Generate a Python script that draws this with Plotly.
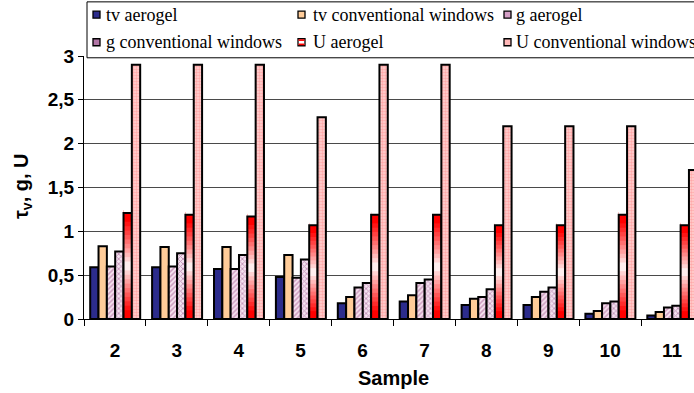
import plotly.graph_objects as go

# ---------------- data ----------------
samples = ["2", "3", "4", "5", "6", "7", "8", "9", "10", "11"]
tv_aerogel = [0.59, 0.59, 0.57, 0.48, 0.18, 0.20, 0.16, 0.16, 0.06, 0.04]
tv_conv = [0.83, 0.82, 0.82, 0.73, 0.25, 0.27, 0.23, 0.25, 0.09, 0.08]
g_aerogel = [0.60, 0.60, 0.57, 0.47, 0.36, 0.41, 0.25, 0.31, 0.18, 0.13]
g_conv = [0.77, 0.75, 0.73, 0.68, 0.41, 0.45, 0.34, 0.36, 0.20, 0.15]
u_aerogel = [1.21, 1.19, 1.17, 1.07, 1.19, 1.19, 1.07, 1.07, 1.19, 1.07]
u_conv = [2.9, 2.9, 2.9, 2.3, 2.9, 2.9, 2.2, 2.2, 2.2, 1.7]
series_names = ["tv aerogel", "tv conventional windows", "g aerogel",
                "g conventional windows", "U aerogel", "U conventional windows"]
y_ticks = [0, 0.5, 1, 1.5, 2, 2.5, 3]

# ---------------- geometry ----------------
W, H = 694, 393
PL, PR = 84, 694          # plot area left / right (px)
PT, PB = 55.5, 319.3      # plot area top / bottom (px)
CAT_W = 61.9              # px per category
x_max = -0.5 + (PR - PL) / CAT_W

BAR_W = 8.33 / CAT_W
START = -0.5 + 6.2 / CAT_W


def offs(i):
    return START + i * BAR_W


def px(x):
    return (x - PL) / (PR - PL)


def py(y):
    return (PB - y) / (PB - PT)


LINE = dict(color="black", width=2)

fig = go.Figure()

fig.add_bar(x=samples, y=tv_aerogel, width=BAR_W, offset=offs(0),
            marker=dict(color="#2c2c8c", line=dict(LINE)), showlegend=False)
fig.add_bar(x=samples, y=tv_conv, width=BAR_W, offset=offs(1),
            marker=dict(color="#ffcc99", line=dict(LINE)), showlegend=False)
fig.add_bar(x=samples, y=g_aerogel, width=BAR_W, offset=offs(2),
            marker=dict(color="#f6e0ee", line=dict(LINE),
                        pattern=dict(shape="/", fgcolor="#9c4a86", bgcolor="#f8e6f2",
                                     size=3.5, solidity=0.45)),
            showlegend=False)
fig.add_bar(x=samples, y=g_conv, width=BAR_W, offset=offs(3),
            marker=dict(color="#eccde4", line=dict(LINE),
                        pattern=dict(shape="x", fgcolor="#8e4280", bgcolor="#f4e2ef",
                                     size=3.5, solidity=0.45)),
            showlegend=False)

# U aerogel: vertical red-white-red gradient, built from overlapping stacked slices
N = 24
for k in range(N):
    t = (k + 0.5) / N
    s = min(1.0, abs(2 * t - 1) * 1.15) ** 0.9
    gb = int(round(255 * (1 - s)))
    fig.add_bar(x=samples, y=[v / N * 1.6 for v in u_aerogel],
                base=[v * k / N for v in u_aerogel],
                width=BAR_W, offset=offs(4),
                marker=dict(color=f"rgb(255,{gb},{gb})", line=dict(width=0)),
                showlegend=False, hoverinfo="skip")
# clear anything above the U-aerogel bar top left by the slice overlap
fig.add_bar(x=samples, y=[0.2] * len(samples), base=u_aerogel,
            width=BAR_W, offset=offs(4),
            marker=dict(color="white", line=dict(width=0)),
            showlegend=False, hoverinfo="skip")
fig.add_bar(x=samples, y=u_aerogel, width=BAR_W, offset=offs(4),
            marker=dict(color="rgba(255,255,255,0)", line=dict(LINE)), showlegend=False)

fig.add_bar(x=samples, y=u_conv, width=BAR_W, offset=offs(5),
            marker=dict(color="#ffc0c0", line=dict(LINE),
                        pattern=dict(shape=".", fgcolor="#ff8080", bgcolor="#ffd2d2",
                                     size=3, solidity=0.5)),
            showlegend=False)

# ---------------- manual legend (Excel style) ----------------
shapes = []
annotations = []
shapes.append(dict(type="rect", xref="paper", yref="paper",
                   x0=px(87), x1=px(760), y0=py(57.3), y1=py(1.2),
                   fillcolor="white", line=dict(color="black", width=1), layer="above"))

leg_pos = [(96.5, 14), (301.5, 14), (507.5, 14), (96.5, 41.7), (301.5, 41.7), (507.5, 41.7)]
leg_text_x = [105, 312, 515, 105, 312, 515]
leg_fill = ["#2c2c8c", "#ffcc99", "#d49fc6", "#b276a6", "white", "#ffb8b8"]
for i, (name, (cx, cy)) in enumerate(zip(series_names, leg_pos)):
    shapes.append(dict(type="rect", xref="paper", yref="paper",
                       x0=px(cx - 3.5), x1=px(cx + 3.5), y0=py(cy + 3.5), y1=py(cy - 3.5),
                       fillcolor=leg_fill[i], line=dict(color="black", width=1.3), layer="above"))
    if name == "U aerogel":
        shapes.append(dict(type="rect", xref="paper", yref="paper",
                           x0=px(cx - 3), x1=px(cx + 3), y0=py(cy - 1.3), y1=py(cy - 3),
                           fillcolor="red", line=dict(width=0), layer="above"))
        shapes.append(dict(type="rect", xref="paper", yref="paper",
                           x0=px(cx - 3), x1=px(cx + 3), y0=py(cy + 3), y1=py(cy + 1.3),
                           fillcolor="red", line=dict(width=0), layer="above"))
    annotations.append(dict(text=name, xref="paper", yref="paper",
                            x=px(leg_text_x[i] - 1), y=py(cy), xanchor="left", yanchor="middle",
                            showarrow=False,
                            font=dict(family="Liberation Serif", size=18, color="black")))

# axis titles
annotations.append(dict(text="τ<sub>v</sub>, g, U", xref="paper", yref="paper",
                        x=px(22), y=py(186), textangle=-90, showarrow=False,
                        xanchor="center", yanchor="middle",
                        font=dict(family="Liberation Sans", size=20, color="black", weight="bold")))
annotations.append(dict(text="Sample", xref="paper", yref="paper",
                        x=px(393), y=py(378), showarrow=False,
                        xanchor="center", yanchor="middle",
                        font=dict(family="Liberation Sans", size=20, color="black", weight="bold")))

fig.update_layout(
    width=W, height=H,
    margin=dict(l=PL, r=W - PR, t=PT, b=H - PB, pad=0),
    paper_bgcolor="white", plot_bgcolor="white",
    barmode="overlay",
    separators=", ",
    shapes=shapes,
    annotations=annotations,
    showlegend=False,
    xaxis=dict(
        type="category", categoryorder="array", categoryarray=samples,
        range=[-0.5, x_max], showgrid=False, zeroline=False,
        showline=True, linecolor="black", linewidth=1.2,
        ticks="outside", ticklen=6, tickwidth=1.2, tickcolor="black", tickson="boundaries",
        tickfont=dict(family="Liberation Sans", size=19, color="black", weight="bold"),
        ticklabelstandoff=14,
    ),
    yaxis=dict(
        range=[0, 3], tickvals=y_ticks,
        showgrid=True, gridcolor="#4a4a4a", gridwidth=1, zeroline=False,
        showline=True, linecolor="black", linewidth=1.2,
        ticks="outside", ticklen=5, tickwidth=1.2, tickcolor="black",
        tickfont=dict(family="Liberation Sans", size=19, color="black", weight="bold"),
    ),
)

fig.write_html("out.html")
